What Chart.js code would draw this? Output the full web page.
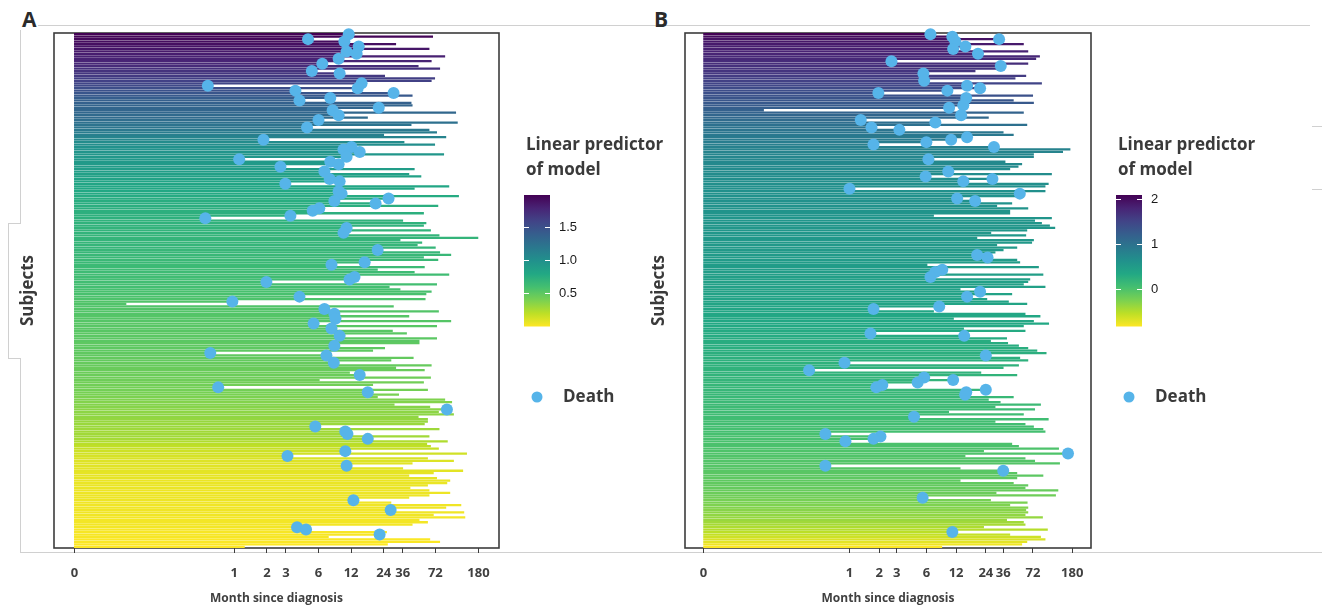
<!DOCTYPE html>
<html>
<head>
<meta charset="utf-8">
<title>Swimmer plots by linear predictor</title>
<script src="https://cdn.jsdelivr.net/npm/chart.js@4.4.1/dist/chart.umd.min.js"></script>
<style>
  html, body { margin: 0; padding: 0; background: #fff; }
  #page { position: relative; width: 1322px; height: 610px; overflow: hidden; font-family: "Open Sans", sans-serif; }
  .layer { position: absolute; left: 0; top: 0; width: 1322px; height: 610px; }
  .rule { position: absolute; background: #d0d0d0; }
  .tag { position: absolute; font-weight: 700; font-size: 21px; line-height: 1; color: #2b2b2b; }
</style>
</head>
<body>
<div id="page">
  <div class="rule" style="left:38px;top:25px;width:1272px;height:1px"></div>
  <div class="rule" style="left:20px;top:552px;width:1302px;height:1px"></div>
  <div class="rule" style="left:20px;top:30px;width:1px;height:193px"></div>
  <div class="rule" style="left:8px;top:223px;width:13px;height:1px"></div>
  <div class="rule" style="left:8px;top:223px;width:1px;height:135px"></div>
  <div class="rule" style="left:8px;top:358px;width:13px;height:1px"></div>
  <div class="rule" style="left:20px;top:358px;width:1px;height:194px"></div>
  <div class="rule" style="left:1312px;top:126px;width:10px;height:1px"></div>
  <div class="rule" style="left:1312px;top:189px;width:10px;height:1px"></div>
  <div class="tag" style="left:22px;top:9px">A</div>
  <div class="tag" style="left:654px;top:9px">B</div>
  <div class="layer"><canvas id="chartA"></canvas></div>
  <div class="layer"><canvas id="chartB"></canvas></div>
</div>
<script>
// ---- x axis: months since diagnosis ----
const tickMonths = [0, 1, 2, 3, 6, 12, 24, 36, 72, 180];
const tickLabels = ['0', '1', '2', '3', '6', '12', '24', '36', '72', '180'];

// ---- Panel A: follow-up (months), death flag, linear predictor; one entry per subject ----
const followA = [
  11.4,68,4.8,10.4,31,14.1,63,10.9,13.5,88,
  9.2,66,6.5,50,79,5.2,9.4,24.5,71,66,
  15,0.57,13.8,3.67,29.6,44,7.7,4.0,43,44,
  21.6,8.1,111,9.2,17,6.0,115,43,4.7,63,
  74,24,90,1.86,37,71,12.1,10.2,14.4,86,
  10.9,1.11,7.7,9.2,2.67,46,6.8,41,53,7.6,
  9.4,2.96,96,46,9.2,9.8,118,26.6,8.4,20.2,
  76,6.1,5.3,56,3.3,0.54,36,59,56,10.9,
  65,10.2,78,178,34,54,49,72,21.1,79,
  100,56,76,16,7.9,57,21,46,96,12.9,
  11.6,1.98,74,27,34,66,59,4.0,58,0.96,
  0.1,29.5,6.8,77,8.4,41,8.6,100,5.4,74,
  7.9,28.9,39,9.4,74,51,51,8.4,24.5,19,
  0.6,7.1,45,28,8.3,66,31,57,11.6,14.4,
  65,6.1,56,19,0.71,61,17.1,33,21,88,
  102,30,64,92,77,106,50,61,61,57,
  5.6,78,10.6,11.1,63,17.1,93,60,65,77,
  10.6,140,3.1,61,106,44,10.9,36,129,69,
  41,74,98,92,61,42,63,98,63,41,
  12.6,28,124,90,27.8,132,69,135,51,61,
  44,3.8,4.6,25.5,22,7.4,64,79,26,1.24
];
const diedA = [
  1,0,1,1,0,1,0,1,1,0,
  1,0,1,0,0,1,1,0,0,0,
  1,1,1,1,1,0,1,1,0,0,
  1,1,0,1,0,1,0,0,1,0,
  0,0,0,1,0,0,1,1,1,0,
  1,1,1,1,1,0,1,0,0,1,
  1,1,0,0,1,1,0,1,1,1,
  0,1,1,0,1,1,0,0,0,1,
  0,1,0,0,0,0,0,0,1,0,
  0,0,0,1,1,0,0,0,0,1,
  1,1,0,0,0,0,0,1,0,1,
  0,0,1,0,1,0,1,0,1,0,
  1,0,0,1,0,0,0,1,0,0,
  1,1,0,0,1,0,0,0,0,1,
  0,0,0,0,1,0,1,0,0,0,
  0,0,0,1,0,0,0,0,0,0,
  1,0,1,1,0,1,0,0,0,0,
  1,0,1,0,0,0,1,0,0,0,
  0,0,0,0,0,0,0,0,0,0,
  1,0,0,0,1,0,0,0,0,0,
  0,1,1,0,1,0,0,0,0,0
];
const scoreA = [
  1.98,1.96,1.94,1.92,1.90,1.88,1.86,1.84,1.82,1.80,
  1.79,1.78,1.76,1.74,1.71,1.69,1.67,1.65,1.62,1.60,
  1.58,1.55,1.52,1.49,1.46,1.43,1.40,1.38,1.37,1.35,
  1.34,1.33,1.32,1.30,1.29,1.27,1.25,1.23,1.21,1.19,
  1.16,1.13,1.10,1.07,1.03,1.01,0.99,0.98,0.96,0.95,
  0.94,0.93,0.92,0.91,0.90,0.89,0.88,0.86,0.85,0.84,
  0.83,0.82,0.81,0.80,0.79,0.78,0.77,0.76,0.75,0.75,
  0.74,0.74,0.73,0.73,0.72,0.72,0.71,0.71,0.71,0.70,
  0.70,0.70,0.69,0.69,0.69,0.68,0.68,0.68,0.67,0.67,
  0.66,0.66,0.65,0.65,0.64,0.64,0.63,0.63,0.62,0.62,
  0.61,0.61,0.60,0.60,0.59,0.58,0.58,0.57,0.56,0.55,
  0.55,0.55,0.54,0.54,0.54,0.53,0.53,0.53,0.52,0.52,
  0.52,0.52,0.51,0.51,0.51,0.51,0.50,0.50,0.50,0.50,
  0.49,0.49,0.48,0.48,0.47,0.47,0.46,0.46,0.45,0.45,
  0.44,0.44,0.43,0.43,0.42,0.42,0.41,0.40,0.39,0.38,
  0.37,0.37,0.36,0.35,0.34,0.34,0.33,0.32,0.31,0.30,
  0.30,0.29,0.28,0.28,0.28,0.27,0.24,0.21,0.19,0.17,
  0.15,0.14,0.12,0.11,0.10,0.09,0.09,0.08,0.08,0.07,
  0.07,0.07,0.06,0.06,0.06,0.06,0.05,0.05,0.05,0.05,
  0.05,0.04,0.04,0.04,0.04,0.04,0.04,0.03,0.03,0.03,
  0.03,0.03,0.02,0.02,0.02,0.02,0.01,0.01,0.00,0.00
];
const legendTicksA = [0.5, 1.0, 1.5];
const legendLabelsA = ['0.5', '1.0', '1.5'];

// ---- Panel B ----
const followB = [
  6.6,11,32.7,11.8,57.7,14.9,11.2,64,20,84,
  77,2.66,64,34,33.6,18.7,5.6,61,47.5,5.7,
  88,15.5,21,9.8,1.96,71.6,15.2,45.6,73,14.2,
  10.2,0.135,57.7,13.5,25.5,1.3,7.4,62.5,1.67,3.2,
  36,45.6,15.5,10.7,6.0,1.75,29,171,144,73,
  73,6.3,37.6,55.5,51,42,10,111,5.9,28,
  14.2,103,95.6,1.0,95.6,53,55.5,12.3,18.7,44,
  31,64,42,42,7.1,111,75,88,106,120,
  62.5,27,61,19.5,73,70,31,49.5,36,29.8,
  19.6,25,49.5,53,6.1,82,8.7,7.4,91,6.6,
  67,64,57.7,95.6,13.2,21,44,15.5,24.6,40.7,
  62.5,8.1,1.75,7.1,60,85,11.3,73,104,57.7,
  14.3,60,1.63,14.5,39,26.8,40,51.5,64,79,
  98,24,53,64,0.89,51.5,36,0.39,21.4,49.5,
  5.7,11.2,4.9,2.15,1.87,24,15.2,14.8,45.6,25.5,
  33.6,86,29.8,75,10.1,57.7,4.5,103,29.8,60,
  73,91,95.6,0.57,2.06,1.75,0.91,44,51.5,131,
  22.8,163,14.8,60,75,134,0.57,13.2,36,49.5,
  91,49.5,13.2,45.6,64,60,129,30.5,122,5.5,
  26.8,63,42,64,61,64,60,90,39,57.7,
  60,22.8,101,11,42,86,95.6,62.5,55.5,8.6
];
const diedB = [
  1,1,1,1,0,1,1,0,1,0,
  0,1,0,1,0,0,1,0,0,1,
  0,1,1,1,1,0,1,0,0,1,
  1,0,0,1,0,1,1,0,1,1,
  0,0,1,1,1,1,1,0,0,0,
  0,1,0,0,0,0,1,0,1,1,
  1,0,0,1,0,1,0,1,1,0,
  0,0,0,0,0,0,0,0,0,0,
  0,0,0,0,0,0,0,0,0,0,
  1,1,0,0,0,0,1,1,0,1,
  0,0,0,0,0,1,0,1,0,0,
  0,1,1,0,0,0,0,0,0,0,
  0,0,1,1,0,0,0,0,0,0,
  0,1,0,0,1,0,0,1,0,0,
  1,1,1,1,1,1,1,1,0,0,
  0,0,0,0,0,0,1,0,0,0,
  0,0,0,1,1,1,1,0,0,0,
  0,1,0,0,0,0,1,0,1,0,
  0,0,0,0,0,0,0,0,0,1,
  0,0,0,0,0,0,0,0,0,0,
  0,0,0,1,0,0,0,0,0,0
];
const scoreB = [
  2.09,2.00,1.95,1.91,1.88,1.85,1.83,1.81,1.79,1.77,
  1.75,1.73,1.71,1.69,1.67,1.65,1.62,1.59,1.56,1.53,
  1.50,1.47,1.44,1.41,1.38,1.36,1.34,1.31,1.28,1.25,
  1.22,1.19,1.16,1.13,1.10,1.07,1.04,1.01,0.98,0.96,
  0.94,0.92,0.90,0.88,0.86,0.84,0.82,0.80,0.78,0.76,
  0.75,0.74,0.73,0.72,0.71,0.70,0.69,0.68,0.67,0.66,
  0.66,0.65,0.65,0.64,0.64,0.63,0.63,0.62,0.62,0.61,
  0.61,0.60,0.60,0.59,0.59,0.58,0.58,0.57,0.57,0.56,
  0.56,0.55,0.55,0.54,0.54,0.53,0.53,0.52,0.52,0.51,
  0.51,0.50,0.50,0.49,0.49,0.48,0.48,0.47,0.46,0.46,
  0.45,0.44,0.44,0.43,0.42,0.42,0.41,0.40,0.40,0.39,
  0.38,0.38,0.37,0.36,0.36,0.35,0.34,0.34,0.33,0.32,
  0.32,0.31,0.30,0.30,0.29,0.28,0.28,0.27,0.26,0.26,
  0.25,0.24,0.24,0.23,0.22,0.22,0.21,0.20,0.20,0.19,
  0.18,0.18,0.17,0.16,0.16,0.15,0.14,0.14,0.13,0.12,
  0.12,0.11,0.10,0.10,0.09,0.08,0.08,0.07,0.06,0.06,
  0.05,0.04,0.04,0.03,0.02,0.02,0.01,0.00,0.00,-0.01,
  -0.02,-0.02,-0.03,-0.04,-0.04,-0.05,-0.06,-0.06,-0.07,-0.08,
  -0.09,-0.10,-0.11,-0.12,-0.13,-0.14,-0.15,-0.17,-0.19,-0.21,
  -0.23,-0.25,-0.27,-0.29,-0.31,-0.33,-0.35,-0.37,-0.39,-0.42,
  -0.45,-0.48,-0.51,-0.54,-0.58,-0.62,-0.67,-0.72,-0.78,-0.84
];
const legendTicksB = [0, 1, 2];
const legendLabelsB = ['0', '1', '2'];

// ---- shared styling ----
const DEATH_COLOR = '#56B4E9';
const TEXT_DARK = '#3a3a3a';
const VIRIDIS = ['#440154','#482475','#414487','#355f8d','#2a788e','#21918c',
                 '#22a884','#44bf70','#7ad151','#bddf26','#fde725'];
// a time of 0 is drawn at one day so the log axis can show it
const ONE_DAY = 1 / 30;
const X_MIN = -1.665, X_MAX = 2.445;

function tx(m) { return Math.log10(Math.max(m, ONE_DAY)); }

function hexRgb(h) {
  const n = parseInt(h.slice(1), 16);
  return [(n >> 16) & 255, (n >> 8) & 255, n & 255];
}
function viridis(t) {
  t = Math.min(1, Math.max(0, t));
  const p = t * 10, i = Math.min(9, Math.floor(p)), f = p - i;
  const a = hexRgb(VIRIDIS[i]), b = hexRgb(VIRIDIS[i + 1]);
  const c = a.map((v, k) => Math.round(v + (b[k] - v) * f));
  return `rgb(${c[0]},${c[1]},${c[2]})`;
}

Chart.defaults.font.family = '"Open Sans", sans-serif';

// plot frame, colour bar key and death key
const panelDecor = {
  id: 'panelDecor',
  beforeDatasetsDraw(chart) {
    const { ctx, chartArea: a } = chart;
    ctx.save();
    ctx.strokeStyle = '#3c3c3c';
    ctx.lineWidth = 1.6;
    ctx.strokeRect(a.left, a.top, a.right - a.left, a.bottom - a.top);
    ctx.restore();
  },
  afterDraw(chart, args, o) {
    const ctx = chart.ctx;
    const x = o.x, top = 195, bottom = 326.5, w = 26;
    ctx.save();
    ctx.fillStyle = TEXT_DARK;
    ctx.font = '700 17px "Open Sans"';
    ctx.textAlign = 'left';
    ctx.textBaseline = 'middle';
    ctx.fillText('Linear predictor', x + 2, 145);
    ctx.fillText('of model', x + 2, 170);

    const g = ctx.createLinearGradient(0, top, 0, bottom);
    VIRIDIS.forEach((c, k) => g.addColorStop(k / 10, c));
    ctx.fillStyle = g;
    ctx.fillRect(x, top, w, bottom - top);

    ctx.strokeStyle = '#ffffff';
    ctx.lineWidth = 1;
    ctx.font = '13px "Liberation Sans", Arial, sans-serif';
    ctx.fillStyle = '#1a1a1a';
    o.ticks.forEach((v, k) => {
      const y = Math.round(top + (o.hi - v) / (o.hi - o.lo) * (bottom - top)) + 0.5;
      ctx.beginPath();
      ctx.moveTo(x, y); ctx.lineTo(x + 5, y);
      ctx.moveTo(x + w - 5, y); ctx.lineTo(x + w, y);
      ctx.stroke();
      ctx.fillText(o.labels[k], x + w + 9, y);
    });

    ctx.beginPath();
    ctx.arc(x + 13, 397, 5.5, 0, Math.PI * 2);
    ctx.fillStyle = DEATH_COLOR;
    ctx.fill();
    ctx.fillStyle = TEXT_DARK;
    ctx.font = '700 17px "Open Sans"';
    ctx.fillText('Death', x + 39, 397);
    ctx.restore();
  }
};

function buildPanel(id, follow, died, score, plotLeft, plotRight, legendX, ticks, labels) {
  const lo = Math.min(...score), hi = Math.max(...score);
  const rows = follow.map((m, i) => ({ x: [tx(0), tx(m)], y: i }));
  const deaths = [];
  follow.forEach((m, i) => { if (died[i]) deaths.push({ x: tx(m), y: i }); });

  return new Chart(document.getElementById(id), {
    type: 'bar',
    data: {
      datasets: [
        {
          type: 'scatter', label: 'Death', data: deaths,
          pointRadius: 6, pointHoverRadius: 6, borderWidth: 0,
          backgroundColor: DEATH_COLOR, clip: false, order: 0
        },
        {
          type: 'bar', label: 'Follow-up', data: rows,
          backgroundColor: score.map(s => viridis((hi - s) / (hi - lo))),
          barThickness: 1.6, borderWidth: 0, order: 1
        }
      ]
    },
    options: {
      indexAxis: 'y',
      responsive: true, maintainAspectRatio: false, animation: false, events: [],
      layout: { padding: { left: plotLeft - 54, right: 1322 - plotRight, top: 33, bottom: 0 } },
      scales: {
        x: {
          type: 'linear', min: X_MIN, max: X_MAX, offset: false,
          afterBuildTicks: s => { s.ticks = tickMonths.map(m => ({ value: tx(m) })); },
          afterFit: s => { s.height = 62; },
          grid: { display: true, offset: false, drawOnChartArea: false, drawTicks: true, tickLength: 5, color: '#3c3c3c', lineWidth: 1 },
          border: { display: false },
          ticks: {
            autoSkip: false, maxRotation: 0, minRotation: 0, padding: 12,
            color: '#404040', font: { size: 13, weight: 'bold' },
            callback: (v, i) => tickLabels[i]
          },
          title: {
            display: true, text: 'Month since diagnosis', color: '#404040',
            font: { size: 12, weight: 'bold' }, padding: { top: 0, bottom: 4 }
          }
        },
        y: {
          type: 'linear', min: -0.5, max: follow.length - 0.5, reverse: true, offset: false,
          afterFit: s => { s.width = 54; },
          grid: { display: false, offset: false }, border: { display: false },
          ticks: { display: false },
          title: {
            display: true, text: 'Subjects', color: TEXT_DARK,
            font: { size: 17, weight: 'bold' }, padding: { top: 18, bottom: 0 }
          }
        }
      },
      plugins: {
        legend: { display: false },
        tooltip: { enabled: false },
        panelDecor: { x: legendX, lo, hi, ticks, labels }
      }
    },
    plugins: [panelDecor]
  });
}

buildPanel('chartA', followA, diedA, scoreA, 54, 499, 524, legendTicksA, legendLabelsA);
buildPanel('chartB', followB, diedB, scoreB, 685, 1091, 1116, legendTicksB, legendLabelsB);
</script>
</body>
</html>
